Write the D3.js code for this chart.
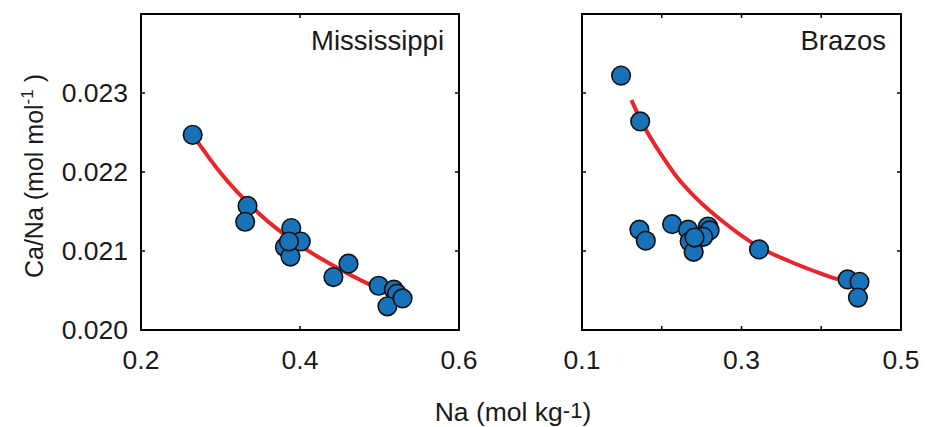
<!DOCTYPE html>
<html>
<head>
<meta charset="utf-8">
<script src="https://cdn.jsdelivr.net/npm/d3@7"></script>
<style>
  body { margin: 0; background: #fff; }
  svg { display: block; font-family: "Liberation Sans", Arial, sans-serif; }
</style>
</head>
<body>
<svg id="chart"></svg>
<script>
// Mississippi samples: Na (mol/kg), Ca/Na (mol/mol)
const missNa = [0.265, 0.334, 0.331, 0.389, 0.401, 0.381, 0.388, 0.386, 0.461, 0.442, 0.499, 0.518, 0.522, 0.510, 0.529];
const missCaNa = [0.02247, 0.02157, 0.02137, 0.02129, 0.02112, 0.02105, 0.02093, 0.02112, 0.02084, 0.02067, 0.02056, 0.02051, 0.02046, 0.02030, 0.02040];
// fitted curve
const missFitNa = [0.265, 0.30, 0.35, 0.40, 0.45, 0.50, 0.53];
const missFitCaNa = [0.02247, 0.02199, 0.02146, 0.02107, 0.02077, 0.02052, 0.02040];

// Brazos samples
const brazNa = [0.149, 0.173, 0.172, 0.180, 0.213, 0.233, 0.235, 0.240, 0.258, 0.260, 0.252, 0.241, 0.322, 0.433, 0.448, 0.446];
const brazCaNa = [0.02322, 0.02264, 0.02127, 0.02113, 0.02134, 0.02127, 0.02112, 0.02099, 0.02131, 0.02126, 0.02118, 0.02117, 0.02102, 0.02064, 0.02061, 0.02041];
const brazFitNa = [0.162, 0.175, 0.20, 0.218, 0.245, 0.277, 0.322, 0.36, 0.398, 0.421];
const brazFitCaNa = [0.02291, 0.02263, 0.02221, 0.02195, 0.02165, 0.02137, 0.02105, 0.02087, 0.02072, 0.02064];

const yTicks = [0.020, 0.021, 0.022, 0.023];
const missXTicks = [0.2, 0.4, 0.6];
const missXLabels = [0.2, 0.4, 0.6];
const brazXTicks = [0.1, 0.2, 0.3, 0.4, 0.5];
const brazXLabels = [0.1, 0.3, 0.5];

const width = 930;
const height = 427;
const marginTop = 14;
const marginBottom = 97;

const svg = d3.select("#chart")
  .attr("width", width)
  .attr("height", height)
  .attr("viewBox", [0, 0, width, height]);

const blue = "#1872ba";
const red = "#e8262b";
const fontSize = 26.5;

const y = d3.scaleLinear()
  .domain([0.020, 0.024])
  .range([height - marginBottom, marginTop]);

function panel(opts) {
  const x = d3.scaleLinear().domain(opts.xDomain).range(opts.xRange);
  const g = svg.append("g");
  const [x0, x1] = opts.xRange;
  const [y0, y1] = [y.range()[1], y.range()[0]];

  // fit curve
  const line = d3.line()
    .x((d) => x(d[0]))
    .y((d) => y(d[1]))
    .curve(d3.curveMonotoneX);
  g.append("path")
    .datum(d3.zip(opts.fitX, opts.fitY))
    .attr("d", line)
    .attr("fill", "none")
    .attr("stroke", red)
    .attr("stroke-width", 4);

  // points
  g.append("g")
    .selectAll("circle")
    .data(d3.zip(opts.px, opts.py))
    .join("circle")
    .attr("cx", (d) => x(d[0]))
    .attr("cy", (d) => y(d[1]))
    .attr("r", 9.3)
    .attr("fill", blue)
    .attr("stroke", "#111")
    .attr("stroke-width", 1.6);

  // inward ticks on all four sides
  const tl = 4;
  const ticks = g.append("g").attr("stroke", "#000").attr("stroke-width", 1.5);
  opts.xTicks.forEach((t) => {
    ticks.append("line").attr("x1", x(t)).attr("x2", x(t)).attr("y1", y1).attr("y2", y1 - tl);
    ticks.append("line").attr("x1", x(t)).attr("x2", x(t)).attr("y1", y0).attr("y2", y0 + tl);
  });
  yTicks.forEach((t) => {
    ticks.append("line").attr("x1", x0).attr("x2", x0 + tl).attr("y1", y(t)).attr("y2", y(t));
    ticks.append("line").attr("x1", x1).attr("x2", x1 - tl).attr("y1", y(t)).attr("y2", y(t));
  });

  // box
  g.append("rect")
    .attr("x", x0)
    .attr("y", y0)
    .attr("width", x1 - x0)
    .attr("height", y1 - y0)
    .attr("fill", "none")
    .attr("stroke", "#000")
    .attr("stroke-width", 2);

  // x tick labels
  g.append("g")
    .selectAll("text")
    .data(opts.xLabels)
    .join("text")
    .attr("x", (d) => x(d))
    .attr("y", y1 + 39)
    .attr("text-anchor", "middle")
    .attr("font-size", fontSize)
    .attr("fill", "#1a1a1a")
    .text((d) => d3.format(".1f")(d));

  if (opts.yLabels) {
    g.append("g")
      .selectAll("text")
      .data(yTicks)
      .join("text")
      .attr("x", x0 - 13)
      .attr("y", (d) => y(d))
      .attr("dy", "0.35em")
      .attr("text-anchor", "end")
      .attr("font-size", fontSize)
      .attr("fill", "#1a1a1a")
      .text((d) => d3.format(".3f")(d));
  }

  // river name
  g.append("text")
    .attr("x", x1 - 15)
    .attr("y", 50)
    .attr("text-anchor", "end")
    .attr("font-size", 27.5)
    .attr("fill", "#1a1a1a")
    .text(opts.title);

  return x;
}

panel({
  title: "Mississippi",
  xDomain: [0.2, 0.6],
  xRange: [141, 459],
  xTicks: missXTicks,
  xLabels: missXLabels,
  yLabels: true,
  px: missNa, py: missCaNa,
  fitX: missFitNa, fitY: missFitCaNa
});

panel({
  title: "Brazos",
  xDomain: [0.1, 0.5],
  xRange: [582, 901],
  xTicks: brazXTicks,
  xLabels: brazXLabels,
  yLabels: false,
  px: brazNa, py: brazCaNa,
  fitX: brazFitNa, fitY: brazFitCaNa
});

// y axis title
const yTitle = svg.append("text")
  .attr("transform", `translate(43,${(y.range()[0] + y.range()[1]) / 2 + 4}) rotate(-90)`)
  .attr("text-anchor", "middle")
  .attr("font-size", 25)
  .attr("fill", "#1a1a1a");
yTitle.append("tspan").text("Ca/Na (mol mol");
yTitle.append("tspan").attr("font-size", 17).attr("dy", -10).text("-1");
yTitle.append("tspan").attr("dy", 10).text(" )");

// x axis title
const xTitle = svg.append("text")
  .attr("x", 513)
  .attr("y", 421)
  .attr("text-anchor", "middle")
  .attr("font-size", fontSize)
  .attr("fill", "#1a1a1a");
xTitle.append("tspan").text("Na (mol kg");
xTitle.append("tspan").attr("font-size", 22).attr("dy", -3).text("-1");
xTitle.append("tspan").attr("dy", 3).text(")");
</script>
</body>
</html>
